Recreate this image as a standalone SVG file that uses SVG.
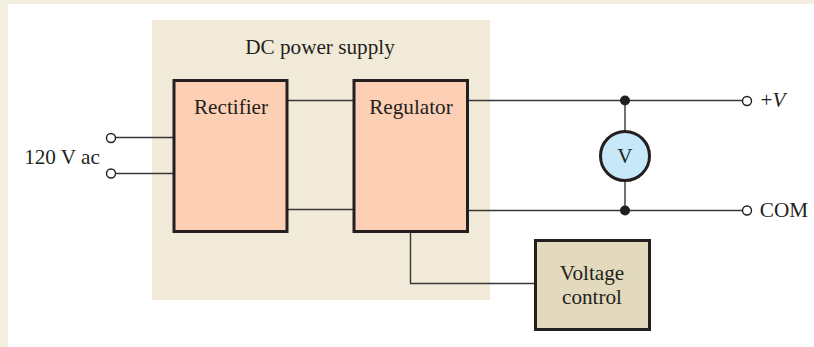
<svg xmlns="http://www.w3.org/2000/svg" width="814" height="347" viewBox="0 0 814 347">
<style>
text{font-family:"Liberation Serif","Times New Roman",serif;font-size:21.2px;fill:#231f20;text-anchor:middle}
.box{stroke:#231f20;stroke-width:3}
.wire{fill:none;stroke:#3a3738;stroke-width:1.4}
.term{fill:#fff;stroke:#231f20;stroke-width:1.4}
.dot{fill:#231f20}
</style>
<rect width="814" height="347" fill="#f3efe0"/>
<rect x="8" y="4" width="806" height="343" fill="#fff"/>
<rect id="supply-bg" x="152" y="20" width="338" height="280" fill="#f1ead8"/>
<text x="320" y="54">DC power supply</text>
<g id="connectors">
<path class="wire" d="M115 137.5H173M115 173.5H173M288 100.5H353M288 209.5H353M468 100.5H742M468 210.5H742M625 100.5V132M625 180V210.5M410.5 232V283.5H535"/>
<circle class="dot" cx="625" cy="100.5" r="5"/>
<circle class="dot" cx="625" cy="210.5" r="5"/>
</g>
<g id="ac-terminals">
<circle class="term" cx="111" cy="138" r="4.5"/>
<circle class="term" cx="111" cy="173.5" r="4.5"/>
<text x="62" y="164">120 V ac</text>
</g>
<g id="rectifier">
<rect class="box" x="174" y="80.5" width="113" height="151" fill="#fdd0b5"/>
<text x="231" y="114">Rectifier</text>
</g>
<g id="regulator">
<rect class="box" x="354" y="80.5" width="113.5" height="151" fill="#fdd0b5"/>
<text x="411" y="114">Regulator</text>
</g>
<g id="voltage-control">
<rect class="box" x="535.5" y="240.5" width="114" height="89" fill="#e3dabd"/>
<text x="592" y="280">Voltage</text>
<text x="592" y="304">control</text>
</g>
<g id="voltmeter">
<circle cx="625" cy="156" r="24.5" fill="#c7e8f8" stroke="#231f20" stroke-width="3"/>
<text x="625" y="163">V</text>
</g>
<g id="plus-v">
<circle class="term" cx="747" cy="101" r="4.5"/>
<text x="773" y="107">+<tspan font-style="italic">V</tspan></text>
</g>
<g id="com">
<circle class="term" cx="747" cy="210.5" r="4.5"/>
<text x="784" y="217">COM</text>
</g>
</svg>
